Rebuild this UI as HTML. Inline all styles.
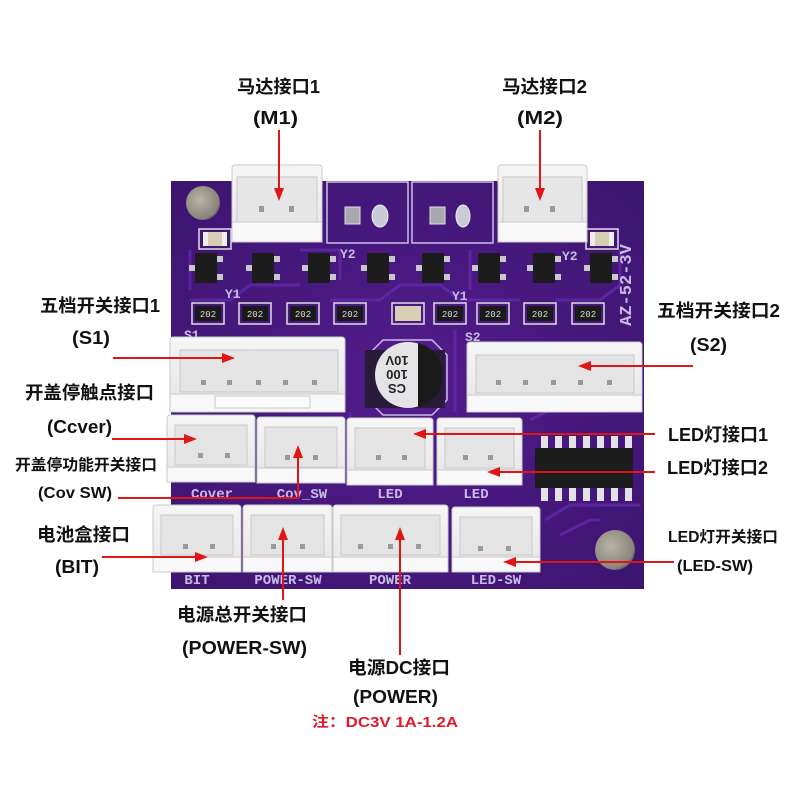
<!DOCTYPE html>
<html><head><meta charset="utf-8"><style>
html,body{margin:0;padding:0;background:#fff;}
svg{display:block;}
.t{font-family:"Liberation Sans","Noto Sans CJK SC",sans-serif;font-weight:bold;fill:#111;}
.s{font-family:"Liberation Mono","DejaVu Sans Mono",monospace;font-weight:bold;fill:#c9bbe6;}
</style></head><body>
<svg width="800" height="800" viewBox="0 0 800 800" xmlns="http://www.w3.org/2000/svg">
<defs>
<radialGradient id="hole" cx="0.4" cy="0.4" r="0.7"><stop offset="0" stop-color="#b8b2a6"/><stop offset="0.8" stop-color="#8a857c"/><stop offset="1" stop-color="#4a4040"/></radialGradient>
<radialGradient id="brd" cx="0.5" cy="0.5" r="0.75"><stop offset="0" stop-color="#511c8c"/><stop offset="1" stop-color="#3c146e"/></radialGradient>
<linearGradient id="conn" x1="0" y1="0" x2="0" y2="1"><stop offset="0" stop-color="#f6f6f6"/><stop offset="1" stop-color="#e4e4e4"/></linearGradient>
</defs>
<rect width="800" height="800" fill="#fff"/>

<!-- board -->
<rect x="171" y="181" width="473" height="408" fill="url(#brd)"/>
<!-- traces -->
<g fill="none" stroke="#6529ad" stroke-width="3" opacity="0.75">
<path d="M190 300 L230 300 L250 285 L300 285"/>
<path d="M330 300 L380 300 L400 285 L440 285 L460 300 L520 300"/>
<path d="M555 300 L600 300 L620 285"/>
<path d="M350 420 L350 412 M455 330 L455 412"/>
<path d="M530 420 L560 405 L640 405"/>
<path d="M545 520 L570 505 L640 505"/>
<path d="M560 535 L590 520 L600 520"/>
<path d="M190 250 L190 290 M620 250 L620 290"/>
<path d="M300 250 L340 250 L340 280 M470 250 L470 290"/>
</g>
<!-- middle boxes -->
<rect x="327" y="182" width="81" height="61" fill="none" stroke="#cbbde8" stroke-width="1.5"/>
<rect x="412" y="182" width="81" height="61" fill="none" stroke="#cbbde8" stroke-width="1.5"/>
<rect x="345" y="207" width="15" height="17" fill="#a8a8b0" stroke="#ddd" stroke-width="1"/>
<ellipse cx="380" cy="216" rx="8" ry="11" fill="#c8ccd6" stroke="#eee"/>
<rect x="430" y="207" width="15" height="17" fill="#a8a8b0" stroke="#ddd" stroke-width="1"/>
<ellipse cx="463" cy="216" rx="7" ry="11" fill="#c8ccd6" stroke="#eee"/>

<!-- mounting holes -->
<circle cx="203" cy="203" r="17" fill="url(#hole)"/>
<circle cx="615" cy="550" r="20" fill="url(#hole)"/>

<!-- SMD caps top -->
<rect x="199" y="229" width="32" height="20" fill="none" stroke="#ddd" stroke-width="1.5"/>
<rect x="203" y="232" width="24" height="14" fill="#d7ceb4"/>
<rect x="203" y="232" width="5" height="14" fill="#eee"/><rect x="222" y="232" width="5" height="14" fill="#eee"/>
<rect x="586" y="229" width="32" height="20" fill="none" stroke="#ddd" stroke-width="1.5"/>
<rect x="590" y="232" width="24" height="14" fill="#d7ceb4"/>
<rect x="590" y="232" width="5" height="14" fill="#eee"/><rect x="609" y="232" width="5" height="14" fill="#eee"/>

<!-- transistors -->
<g fill="#1c1c1c">
<rect x="195" y="253" width="22" height="30"/><rect x="252" y="253" width="22" height="30"/>
<rect x="308" y="253" width="22" height="30"/><rect x="367" y="253" width="22" height="30"/>
<rect x="422" y="253" width="22" height="30"/><rect x="478" y="253" width="22" height="30"/>
<rect x="533" y="253" width="22" height="30"/><rect x="590" y="253" width="22" height="30"/>
</g>
<g fill="#c8c8cc">
<rect x="217" y="256" width="6" height="6"/><rect x="217" y="274" width="6" height="6"/><rect x="189" y="265" width="6" height="6"/>
<rect x="274" y="256" width="6" height="6"/><rect x="274" y="274" width="6" height="6"/><rect x="246" y="265" width="6" height="6"/>
<rect x="330" y="256" width="6" height="6"/><rect x="330" y="274" width="6" height="6"/><rect x="302" y="265" width="6" height="6"/>
<rect x="389" y="256" width="6" height="6"/><rect x="389" y="274" width="6" height="6"/><rect x="361" y="265" width="6" height="6"/>
<rect x="444" y="256" width="6" height="6"/><rect x="444" y="274" width="6" height="6"/><rect x="416" y="265" width="6" height="6"/>
<rect x="500" y="256" width="6" height="6"/><rect x="500" y="274" width="6" height="6"/><rect x="472" y="265" width="6" height="6"/>
<rect x="555" y="256" width="6" height="6"/><rect x="555" y="274" width="6" height="6"/><rect x="527" y="265" width="6" height="6"/>
<rect x="612" y="256" width="6" height="6"/><rect x="612" y="274" width="6" height="6"/><rect x="584" y="265" width="6" height="6"/>
</g>
<text class="s" x="225" y="298" font-size="13">Y1</text>
<text class="s" x="340" y="258" font-size="13">Y2</text>
<text class="s" x="452" y="300" font-size="13">Y1</text>
<text class="s" x="562" y="260" font-size="13">Y2</text>

<!-- resistors -->
<g>
<rect x="192" y="303" width="32" height="21" fill="none" stroke="#ddd" stroke-width="1.5"/><rect x="195" y="306" width="26" height="15" fill="#1a1a1a"/>
<rect x="239" y="303" width="32" height="21" fill="none" stroke="#ddd" stroke-width="1.5"/><rect x="242" y="306" width="26" height="15" fill="#1a1a1a"/>
<rect x="287" y="303" width="32" height="21" fill="none" stroke="#ddd" stroke-width="1.5"/><rect x="290" y="306" width="26" height="15" fill="#1a1a1a"/>
<rect x="334" y="303" width="32" height="21" fill="none" stroke="#ddd" stroke-width="1.5"/><rect x="337" y="306" width="26" height="15" fill="#1a1a1a"/>
<rect x="392" y="303" width="32" height="21" fill="none" stroke="#ddd" stroke-width="1.5"/><rect x="395" y="306" width="26" height="15" fill="#d7ceb4"/>
<rect x="434" y="303" width="32" height="21" fill="none" stroke="#ddd" stroke-width="1.5"/><rect x="437" y="306" width="26" height="15" fill="#1a1a1a"/>
<rect x="477" y="303" width="32" height="21" fill="none" stroke="#ddd" stroke-width="1.5"/><rect x="480" y="306" width="26" height="15" fill="#1a1a1a"/>
<rect x="524" y="303" width="32" height="21" fill="none" stroke="#ddd" stroke-width="1.5"/><rect x="527" y="306" width="26" height="15" fill="#1a1a1a"/>
<rect x="572" y="303" width="32" height="21" fill="none" stroke="#ddd" stroke-width="1.5"/><rect x="575" y="306" width="26" height="15" fill="#1a1a1a"/>
</g>
<g font-family="Liberation Mono,monospace" font-size="9" fill="#ddd" text-anchor="middle">
<text x="208" y="317">202</text><text x="255" y="317">202</text><text x="303" y="317">202</text><text x="350" y="317">202</text>
<text x="450" y="317">202</text><text x="493" y="317">202</text><text x="540" y="317">202</text><text x="588" y="317">202</text>
</g>
<text class="s" x="631" y="285" font-size="17" text-anchor="middle" transform="rotate(-90 631 285)">AZ-52-3V</text>
<text class="s" x="184" y="339" font-size="13">S1</text>
<text class="s" x="465" y="341" font-size="13">S2</text>

<!-- capacitor -->
<path d="M383 340 L432 340 L447 355 L447 400 L432 415 L383 415 L368 400 L368 355 Z" fill="none" stroke="#cbbde8" stroke-width="1.5"/>
<rect x="365" y="350" width="80" height="58" fill="#2a1a3a"/>
<circle cx="408" cy="375" r="33" fill="#e4e4e6"/>
<path d="M418 343 A33 33 0 0 1 418 407 Z" fill="#1a1a1a"/>
<g transform="rotate(180 397 375)" font-family="Liberation Sans,sans-serif" font-weight="bold" font-size="13" fill="#222" text-anchor="middle">
<text x="397" y="366">CS</text>
<text x="397" y="380">100</text>
<text x="397" y="394">10V</text>
</g>

<!-- IC -->
<rect x="535" y="448" width="98" height="40" fill="#1c1c1c"/>
<g fill="#e2e2e6">
<rect x="541" y="436" width="7" height="12"/><rect x="555" y="436" width="7" height="12"/><rect x="569" y="436" width="7" height="12"/><rect x="583" y="436" width="7" height="12"/><rect x="597" y="436" width="7" height="12"/><rect x="611" y="436" width="7" height="12"/><rect x="625" y="436" width="7" height="12"/>
<rect x="541" y="488" width="7" height="13"/><rect x="555" y="488" width="7" height="13"/><rect x="569" y="488" width="7" height="13"/><rect x="583" y="488" width="7" height="13"/><rect x="597" y="488" width="7" height="13"/><rect x="611" y="488" width="7" height="13"/><rect x="625" y="488" width="7" height="13"/>
</g>

<!-- connectors -->
<g stroke="#c9c9c9" stroke-width="1">
<rect x="232" y="165" width="90" height="77" rx="3" fill="url(#conn)"/>
<rect x="237" y="177" width="80" height="45" fill="#e6e6e6"/>
<rect x="232" y="222" width="90" height="20" fill="#f8f8f8"/>
<rect x="498" y="165" width="89" height="77" rx="3" fill="url(#conn)"/>
<rect x="503" y="177" width="79" height="45" fill="#e6e6e6"/>
<rect x="498" y="222" width="89" height="20" fill="#f8f8f8"/>
<rect x="170" y="337" width="175" height="75" rx="3" fill="url(#conn)"/>
<rect x="180" y="350" width="158" height="42" fill="#e4e4e4"/>
<rect x="170" y="394" width="175" height="18" fill="#f8f8f8"/>
<rect x="215" y="396" width="95" height="12" fill="#fbfbfb"/>
<rect x="467" y="342" width="175" height="70" rx="3" fill="url(#conn)"/>
<rect x="476" y="355" width="158" height="38" fill="#e4e4e4"/>
<rect x="467" y="395" width="175" height="17" fill="#f8f8f8"/>
<rect x="167" y="415" width="88" height="67" rx="3" fill="url(#conn)"/>
<rect x="175" y="425" width="72" height="40" fill="#e4e4e4"/>
<rect x="167" y="467" width="88" height="15" fill="#f8f8f8"/>
<rect x="257" y="417" width="88" height="66" rx="3" fill="url(#conn)"/>
<rect x="265" y="427" width="72" height="40" fill="#e4e4e4"/>
<rect x="257" y="468" width="88" height="15" fill="#f8f8f8"/>
<rect x="347" y="418" width="86" height="67" rx="3" fill="url(#conn)"/>
<rect x="355" y="428" width="70" height="40" fill="#e4e4e4"/>
<rect x="347" y="470" width="86" height="15" fill="#f8f8f8"/>
<rect x="437" y="418" width="85" height="67" rx="3" fill="url(#conn)"/>
<rect x="445" y="428" width="69" height="40" fill="#e4e4e4"/>
<rect x="437" y="470" width="85" height="15" fill="#f8f8f8"/>
<rect x="153" y="505" width="88" height="67" rx="3" fill="url(#conn)"/>
<rect x="161" y="515" width="72" height="40" fill="#e4e4e4"/>
<rect x="153" y="557" width="88" height="15" fill="#f8f8f8"/>
<rect x="243" y="505" width="89" height="67" rx="3" fill="url(#conn)"/>
<rect x="251" y="515" width="73" height="40" fill="#e4e4e4"/>
<rect x="243" y="557" width="89" height="15" fill="#f8f8f8"/>
<rect x="333" y="505" width="115" height="67" rx="3" fill="url(#conn)"/>
<rect x="341" y="515" width="99" height="40" fill="#e4e4e4"/>
<rect x="333" y="557" width="115" height="15" fill="#f8f8f8"/>
<rect x="452" y="507" width="88" height="65" rx="3" fill="url(#conn)"/>
<rect x="460" y="517" width="72" height="38" fill="#e4e4e4"/>
<rect x="452" y="557" width="88" height="15" fill="#f8f8f8"/>
</g>
<!-- pins -->
<g fill="#9a9a9a">
<rect x="259" y="206" width="5" height="6"/><rect x="289" y="206" width="5" height="6"/>
<rect x="524" y="206" width="5" height="6"/><rect x="550" y="206" width="5" height="6"/>
<rect x="201" y="380" width="5" height="5"/><rect x="227" y="380" width="5" height="5"/><rect x="256" y="380" width="5" height="5"/><rect x="283" y="380" width="5" height="5"/><rect x="312" y="380" width="5" height="5"/>
<rect x="496" y="380" width="5" height="5"/><rect x="523" y="380" width="5" height="5"/><rect x="551" y="380" width="5" height="5"/><rect x="578" y="380" width="5" height="5"/><rect x="607" y="380" width="5" height="5"/>
<rect x="198" y="453" width="5" height="5"/><rect x="225" y="453" width="5" height="5"/>
<rect x="285" y="455" width="5" height="5"/><rect x="313" y="455" width="5" height="5"/>
<rect x="376" y="455" width="5" height="5"/><rect x="402" y="455" width="5" height="5"/>
<rect x="463" y="455" width="5" height="5"/><rect x="488" y="455" width="5" height="5"/>
<rect x="183" y="544" width="5" height="5"/><rect x="210" y="544" width="5" height="5"/>
<rect x="271" y="544" width="5" height="5"/><rect x="300" y="544" width="5" height="5"/>
<rect x="358" y="544" width="5" height="5"/><rect x="388" y="544" width="5" height="5"/><rect x="416" y="544" width="5" height="5"/>
<rect x="478" y="546" width="5" height="5"/><rect x="506" y="546" width="5" height="5"/>
</g>
<!-- silkscreen labels -->
<g class="s" font-size="14" text-anchor="middle">
<text x="212" y="498">Cover</text><text x="302" y="498">Cov_SW</text><text x="390" y="498">LED</text><text x="476" y="498">LED</text>
<text x="197" y="584">BIT</text><text x="288" y="584">POWER-SW</text><text x="390" y="584">POWER</text><text x="496" y="584">LED-SW</text>
</g>

<!-- red arrows -->
<g stroke="#e01515" stroke-width="2" fill="none">
<path d="M279 130 L279 190"/><path d="M540 130 L540 190"/>
<path d="M113 358 L224 358"/>
<path d="M112 439 L186 439"/>
<path d="M118 498 L298 498 L298 456"/>
<path d="M102 557 L197 557"/>
<path d="M693 366 L589 366"/>
<path d="M655 434 L424 434"/>
<path d="M655 472 L498 472"/>
<path d="M674 562 L514 562"/>
<path d="M283 600 L283 538"/>
<path d="M400 655 L400 538"/>
</g>
<g fill="#e01515">
<path d="M274 188 L284 188 L279 201 Z"/>
<path d="M535 188 L545 188 L540 201 Z"/>
<path d="M222 353 L222 363 L235 358 Z"/>
<path d="M184 434 L184 444 L197 439 Z"/>
<path d="M293 458 L303 458 L298 445 Z"/>
<path d="M195 552 L195 562 L208 557 Z"/>
<path d="M591 361 L591 371 L578 366 Z"/>
<path d="M426 429 L426 439 L413 434 Z"/>
<path d="M500 467 L500 477 L487 472 Z"/>
<path d="M516 557 L516 567 L503 562 Z"/>
<path d="M278 540 L288 540 L283 527 Z"/>
<path d="M395 540 L405 540 L400 527 Z"/>
</g>

<!-- annotation text -->
<g class="t" font-size="18">
<text x="237" y="93" textLength="83" lengthAdjust="spacingAndGlyphs">马达接口1</text>
<text x="253" y="124" textLength="45" lengthAdjust="spacingAndGlyphs">(M1)</text>
<text x="502" y="93" textLength="85" lengthAdjust="spacingAndGlyphs">马达接口2</text>
<text x="517" y="124" textLength="46" lengthAdjust="spacingAndGlyphs">(M2)</text>
<text x="40" y="312" textLength="120" lengthAdjust="spacingAndGlyphs">五档开关接口1</text>
<text x="72" y="344" textLength="38" lengthAdjust="spacingAndGlyphs">(S1)</text>
<text x="25" y="399" textLength="129" lengthAdjust="spacingAndGlyphs">开盖停触点接口</text>
<text x="47" y="433" textLength="65" lengthAdjust="spacingAndGlyphs">(Ccver)</text>
<text x="37" y="541" textLength="93" lengthAdjust="spacingAndGlyphs">电池盒接口</text>
<text x="55" y="573" textLength="44" lengthAdjust="spacingAndGlyphs">(BIT)</text>
<text x="657" y="317" textLength="123" lengthAdjust="spacingAndGlyphs">五档开关接口2</text>
<text x="690" y="351" textLength="37" lengthAdjust="spacingAndGlyphs">(S2)</text>
<text x="668" y="441" textLength="100" lengthAdjust="spacingAndGlyphs">LED灯接口1</text>
<text x="667" y="474" textLength="101" lengthAdjust="spacingAndGlyphs">LED灯接口2</text>
<text x="177" y="621" textLength="130" lengthAdjust="spacingAndGlyphs">电源总开关接口</text>
<text x="182" y="654" textLength="125" lengthAdjust="spacingAndGlyphs">(POWER-SW)</text>
<text x="348" y="674" textLength="102" lengthAdjust="spacingAndGlyphs">电源DC接口</text>
<text x="353" y="703" textLength="85" lengthAdjust="spacingAndGlyphs">(POWER)</text>
</g>
<g class="t" font-size="15.5">
<text x="15" y="470" textLength="142" lengthAdjust="spacingAndGlyphs">开盖停功能开关接口</text>
<text x="38" y="498" textLength="74" lengthAdjust="spacingAndGlyphs">(Cov SW)</text>
<text x="668" y="542" textLength="110" lengthAdjust="spacingAndGlyphs">LED灯开关接口</text>
<text x="677" y="571" textLength="76" lengthAdjust="spacingAndGlyphs">(LED-SW)</text>
</g>
<text class="t" x="312" y="727" font-size="14.5" style="fill:#e01a2a" textLength="146" lengthAdjust="spacingAndGlyphs">注：DC3V 1A-1.2A</text>
</svg>
</body></html>
